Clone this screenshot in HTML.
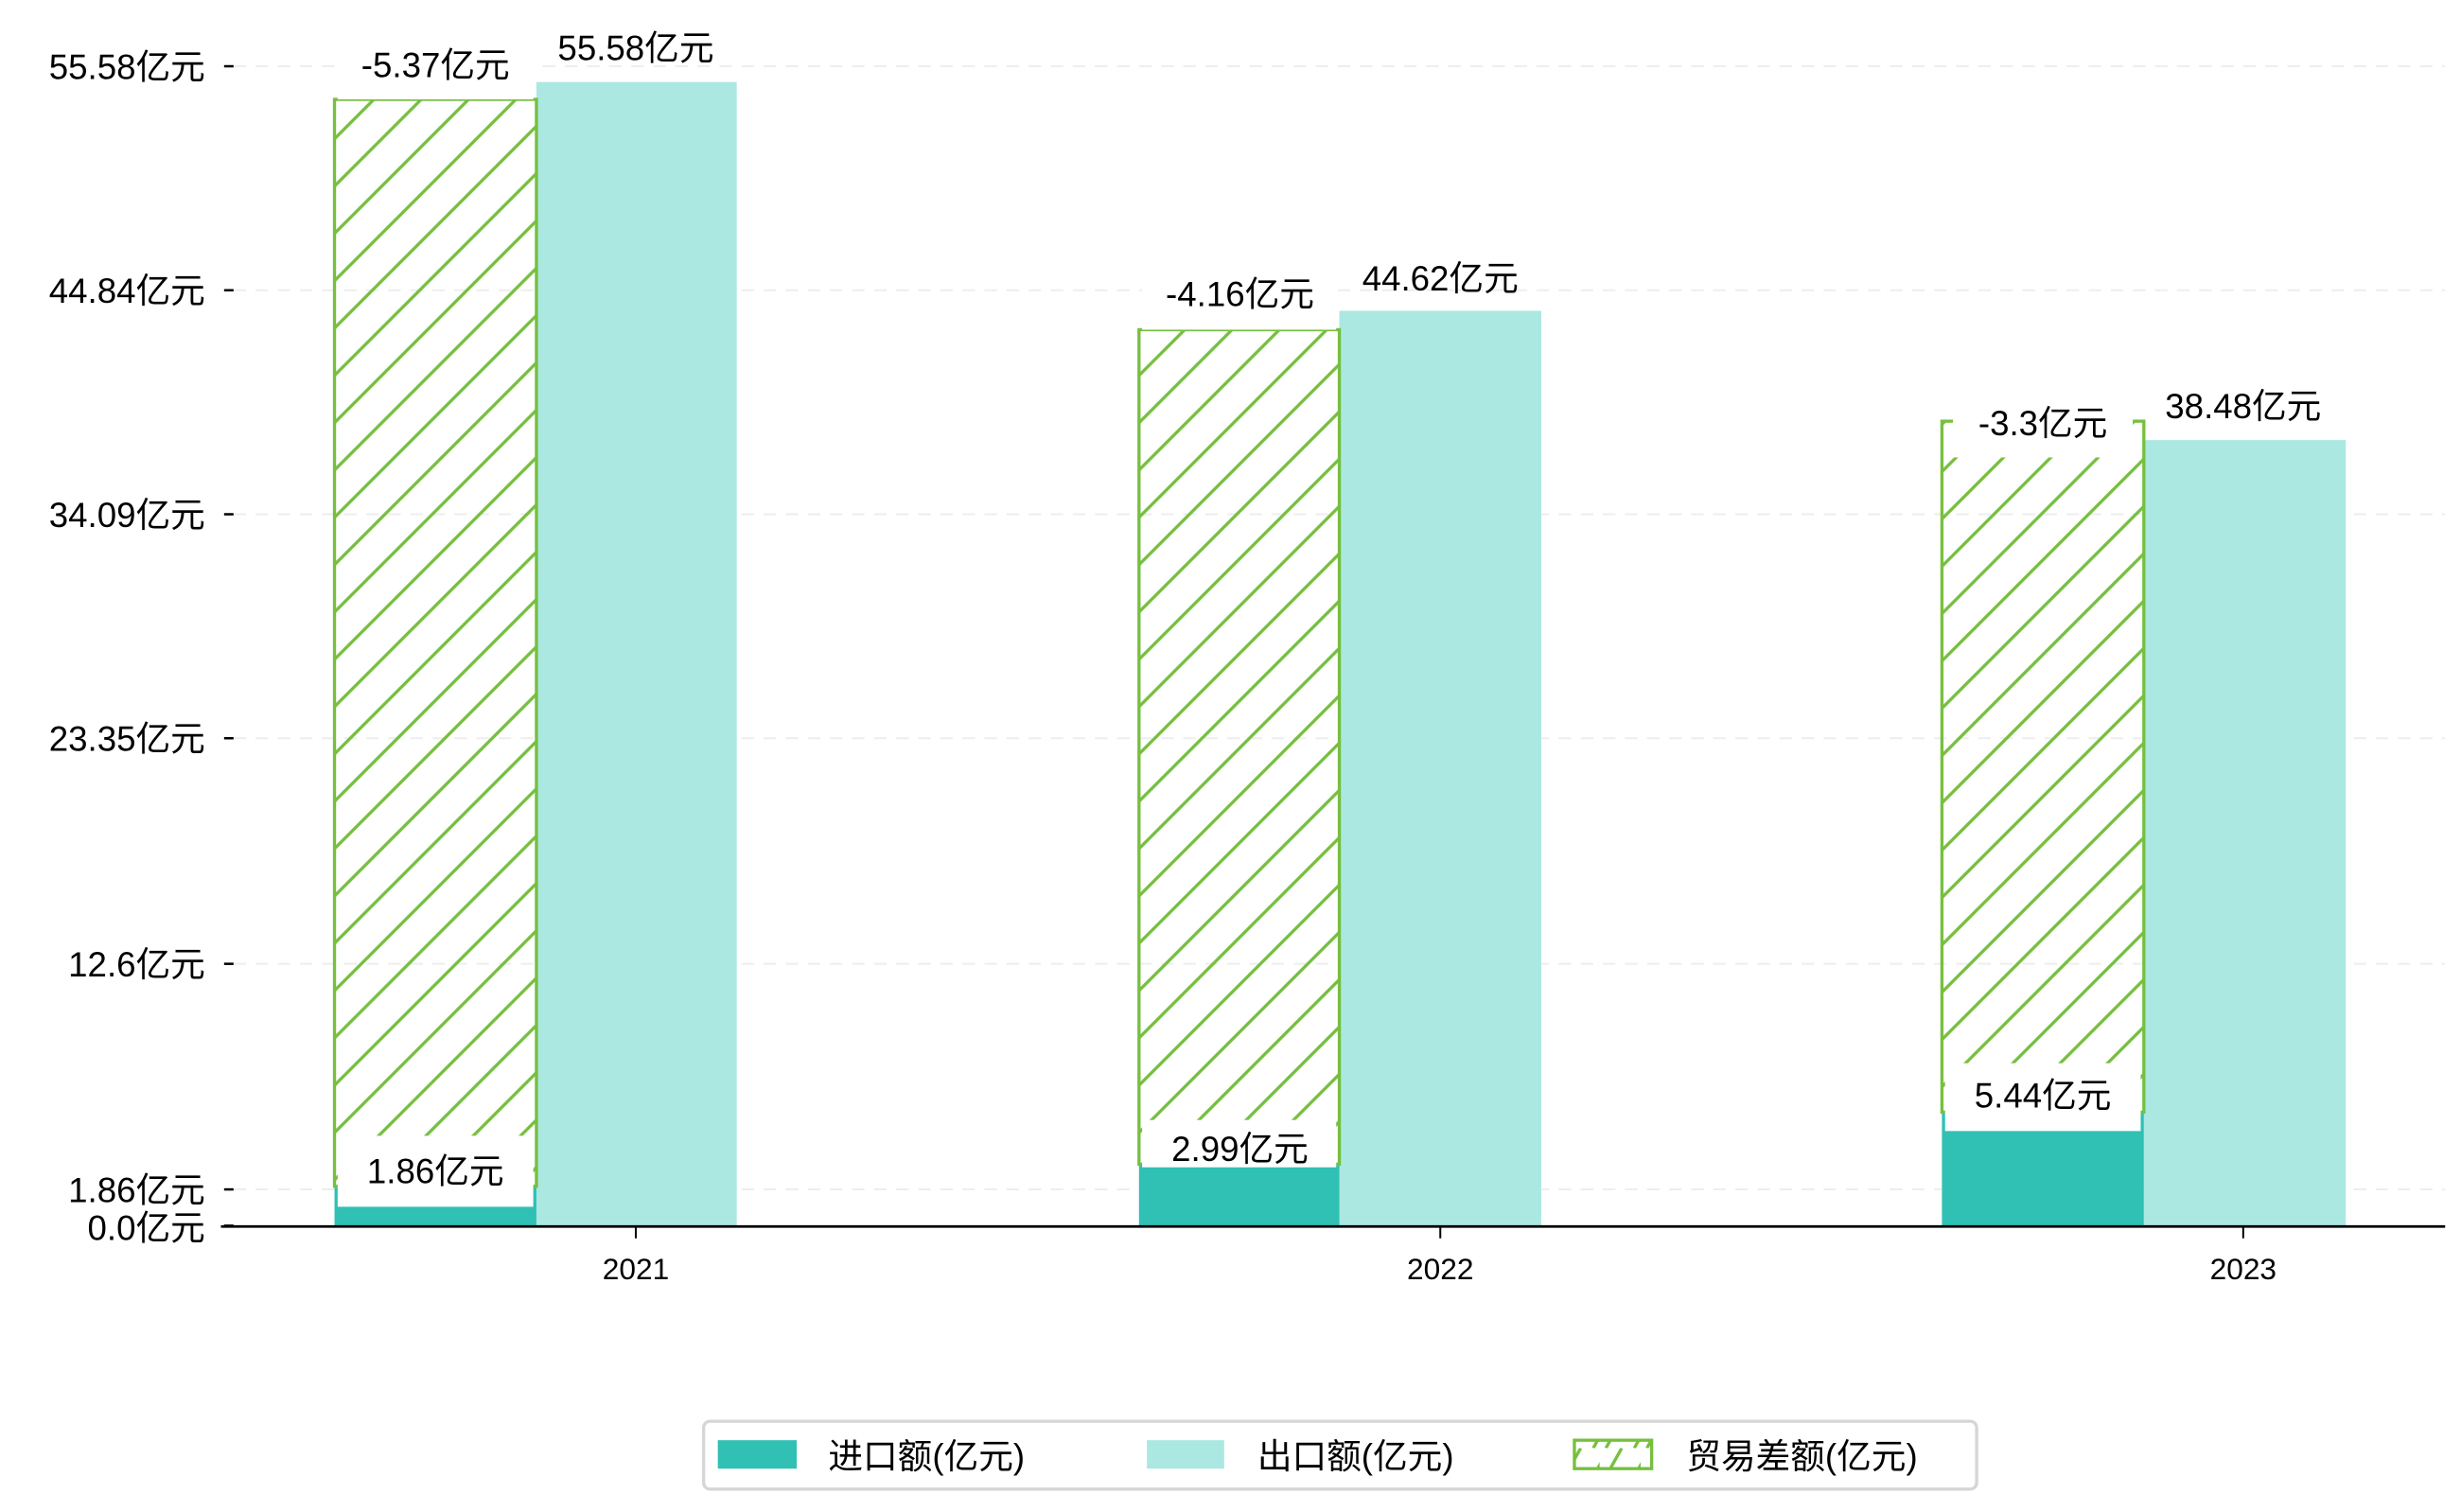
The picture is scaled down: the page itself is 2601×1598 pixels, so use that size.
<!DOCTYPE html>
<html><head><meta charset="utf-8"><style>
html,body{margin:0;padding:0;background:#fff}
svg{display:block}
text{font-family:"Liberation Sans","Noto Sans CJK SC",sans-serif;fill:#000}
</style></head><body>
<svg width="2601" height="1598" viewBox="0 0 1560 958.5" xmlns="http://www.w3.org/2000/svg">
<defs>
<pattern id="h" patternUnits="userSpaceOnUse" width="30" height="30">
<path d="M-5,5 L5,-5 M0,30 L30,0 M25,35 L35,25" stroke="#76bf3f" stroke-width="2"/>
</pattern>
<pattern id="h2" patternUnits="userSpaceOnUse" width="26" height="18">
<path d="M4,18 L14,0 M22,18 L32,0" stroke="#76bf3f" stroke-width="2"/>
</pattern>
</defs>
<g stroke="#eeeeee" stroke-width="1.2" stroke-dasharray="8,6">
<line x1="148" y1="42" x2="1550" y2="42"/>
<line x1="148" y1="184" x2="1550" y2="184"/>
<line x1="148" y1="326" x2="1550" y2="326"/>
<line x1="148" y1="468" x2="1550" y2="468"/>
<line x1="148" y1="611" x2="1550" y2="611"/>
<line x1="148" y1="754" x2="1550" y2="754"/>
</g>
<g font-size="22" text-anchor="end">
<text x="130" y="50">55.58亿元</text>
<text x="130" y="192">44.84亿元</text>
<text x="130" y="334">34.09亿元</text>
<text x="130" y="476">23.35亿元</text>
<text x="130" y="619">12.6亿元</text>
<text x="130" y="762">1.86亿元</text>
<text x="130" y="786">0.0亿元</text>
</g>
<g stroke="#000" stroke-width="1.5">
<line x1="142" y1="42" x2="148" y2="42"/><line x1="142" y1="184" x2="148" y2="184"/>
<line x1="142" y1="326" x2="148" y2="326"/><line x1="142" y1="468" x2="148" y2="468"/>
<line x1="142" y1="611" x2="148" y2="611"/><line x1="142" y1="754" x2="148" y2="754"/>
<line x1="142" y1="777" x2="148" y2="777"/>
</g>
<rect x="340" y="52" width="127" height="725" fill="#abe8e2"/>
<rect x="849" y="197" width="128" height="580" fill="#abe8e2"/>
<rect x="1359" y="279" width="128" height="498" fill="#abe8e2"/>
<rect x="212" y="752" width="128" height="25" fill="#30c0b4"/>
<rect x="722" y="738" width="127" height="39" fill="#30c0b4"/>
<rect x="1231" y="705" width="128" height="72" fill="#30c0b4"/>
<rect x="212" y="63" width="128" height="689" fill="url(#h)" stroke="#76bf3f" stroke-width="2"/>
<rect x="722" y="209" width="127" height="529" fill="url(#h)" stroke="#76bf3f" stroke-width="2"/>
<rect x="1231" y="267" width="128" height="438" fill="url(#h)" stroke="#76bf3f" stroke-width="2"/>
<g fill="#fff">
<rect x="214" y="20" width="124" height="43"/>
<rect x="724" y="166" width="123" height="43"/>
<rect x="1238" y="252" width="114" height="38"/>
<rect x="214" y="720" width="124" height="45"/>
<rect x="724" y="710" width="123" height="30"/>
<rect x="1233" y="674" width="124" height="43"/>
</g>
<g font-size="22" text-anchor="middle">
<text x="276" y="49">-5.37亿元</text>
<text x="403" y="38">55.58亿元</text>
<text x="786" y="194">-4.16亿元</text>
<text x="913" y="184">44.62亿元</text>
<text x="1295" y="276">-3.3亿元</text>
<text x="1422" y="265">38.48亿元</text>
<text x="276" y="750">1.86亿元</text>
<text x="786" y="736">2.99亿元</text>
<text x="1295" y="702">5.44亿元</text>
</g>
<line x1="140" y1="777.5" x2="1550" y2="777.5" stroke="#000" stroke-width="1.6"/>
<g stroke="#000" stroke-width="1.2">
<line x1="403" y1="778" x2="403" y2="785"/><line x1="913" y1="778" x2="913" y2="785"/><line x1="1422" y1="778" x2="1422" y2="785"/>
</g>
<g font-size="19" text-anchor="middle">
<text x="403" y="811">2021</text><text x="913" y="811">2022</text><text x="1422" y="811">2023</text>
</g>
<rect x="446" y="901" width="807" height="43" rx="4" fill="#fff" stroke="#d6d6d6" stroke-width="2"/>
<rect x="455" y="913" width="50" height="18" fill="#30c0b4"/>
<rect x="727" y="913" width="49" height="18" fill="#abe8e2"/>
<rect x="998" y="913" width="49" height="18" fill="url(#h2)" stroke="#76bf3f" stroke-width="2"/>
<g font-size="22">
<text x="525" y="931">进口额(亿元)</text>
<text x="797" y="931">出口额(亿元)</text>
<text x="1069" y="931">贸易差额(亿元)</text>
</g>
</svg>
</body></html>
